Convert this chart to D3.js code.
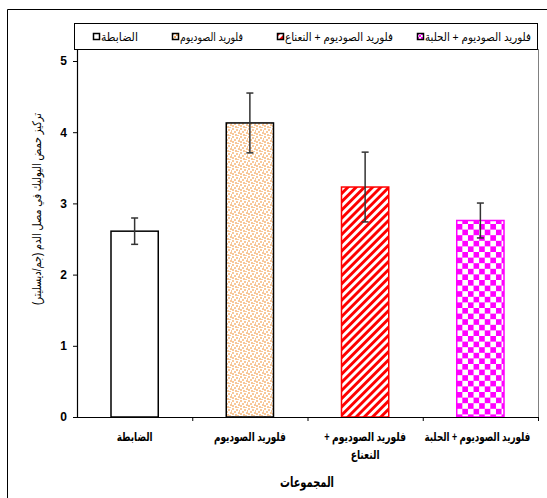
<!DOCTYPE html>
<html>
<head>
<meta charset="utf-8">
<script src="https://cdn.jsdelivr.net/npm/d3@7"></script>
<style>
  html, body { margin: 0; padding: 0; background: #fff; }
  svg { display: block; }
  text { font-family: 'Liberation Sans', 'DejaVu Sans', Arial, sans-serif; }
</style>
</head>
<body>
<svg id="chart" width="547" height="498"></svg>
<script>
// ---- data ----
const categories = ["الضابطة", "فلوريد الصوديوم", "فلوريد الصوديوم + النعناع", "فلوريد الصوديوم + الحلبة"];
const axisLabels = [["الضابطة"], ["فلوريد الصوديوم"], ["فلوريد الصوديوم +", "النعناع"], ["فلوريد الصوديوم + الحلبة"]];
const means = [2.61, 4.13, 3.23, 2.76];
const errors = [0.185, 0.42, 0.49, 0.245];
const yTicks = [0, 1, 2, 3, 4, 5];
const yTitle = "تركيز حمض اليوليك في مصل الدم (جم/ديسليتر)";
const xTitle = "المجموعات";

// visual widths of the texts in the reference (layout, px)
const axisLabelWidths = [[36], [72], [82, 29], [106]];
const legendWidths = [37, 63, 108, 106];

const fills = ["#ffffff", "url(#dots)", "url(#stripes)", "url(#checks)"];
const strokes = ["#000000", "#000000", "#ff0000", "#ff00ff"];
const swatchFills = ["#ffffff", "url(#dotsS)", "url(#stripesS)", "url(#checksS)"];

const svg = d3.select("#chart");
const defs = svg.append("defs");

// place a text at (tx,ty) (optionally rotated) and squeeze it horizontally to a target width
function placeFit(sel, tx, ty, target, rot) {
  const w = sel.node().getComputedTextLength();
  const s = w > target ? target / w : 1;
  sel.attr("x", 0).attr("y", 0)
    .attr("transform", `translate(${tx},${ty})${rot ? ` rotate(${rot})` : ""} scale(${s},1)`);
}

function dotsPattern(id, c) {
  const p = defs.append("pattern").attr("id", id).attr("patternUnits", "userSpaceOnUse")
    .attr("width", 8).attr("height", 8);
  p.append("rect").attr("width", 8).attr("height", 8).attr("fill", "#fff");
  [[0,0],[4,1],[2,3],[6,4],[0,5],[3,6],[5,7],[7,2]].forEach(([a,b]) =>
    p.append("rect").attr("x", a).attr("y", b).attr("width", 2).attr("height", 2).attr("fill", c));
}
dotsPattern("dots", "#f8c89a");
dotsPattern("dotsS", "#f0a860");

function stripesPattern(id) {
  const p = defs.append("pattern").attr("id", id).attr("patternUnits", "userSpaceOnUse")
    .attr("width", 5.8).attr("height", 10).attr("patternTransform", "rotate(45)");
  p.append("rect").attr("width", 5.8).attr("height", 10).attr("fill", "#fff");
  p.append("rect").attr("width", 2.9).attr("height", 10).attr("fill", "#ff0000");
}
stripesPattern("stripes");
stripesPattern("stripesS");

function checksPattern(id, s, ox) {
  const p = defs.append("pattern").attr("id", id).attr("patternUnits", "userSpaceOnUse")
    .attr("width", 2*s).attr("height", 2*s).attr("x", ox).attr("y", 0);
  p.append("rect").attr("width", 2*s).attr("height", 2*s).attr("fill", "#fff");
  p.append("rect").attr("width", s).attr("height", s).attr("fill", "#ff00ff");
  p.append("rect").attr("x", s).attr("y", s).attr("width", s).attr("height", s).attr("fill", "#ff00ff");
}

// ---- layout ----
const mLeft = 77, mRight = 538, mTop = 61, mBottom = 417;
const x = d3.scaleBand().domain(categories).range([mLeft, mRight]).padding(0);
const y = d3.scaleLinear().domain([0, 5]).range([mBottom, mTop]);
const barW = x.bandwidth() * 0.41;

checksPattern("checks", 5.6, x(categories[3]) + (x.bandwidth() - barW) / 2);
checksPattern("checksS", 2, 0);

svg.append("path").attr("d", "M7.5,498 V9.5 H547").attr("fill", "none").attr("stroke", "#000").attr("stroke-width", 1);

svg.append("line").attr("x1", mRight + 0.5).attr("x2", mRight + 0.5).attr("y1", 49).attr("y2", mBottom + 4)
  .attr("stroke", "#808080").attr("stroke-width", 1);

const g = svg.append("g");
g.selectAll("rect.bar").data(means).join("rect")
  .attr("class", "bar")
  .attr("x", (d, i) => x(categories[i]) + (x.bandwidth() - barW) / 2)
  .attr("y", d => y(d))
  .attr("width", barW)
  .attr("height", d => y(0) - y(d))
  .attr("fill", (d, i) => fills[i])
  .attr("stroke", (d, i) => strokes[i])
  .attr("stroke-width", 1.5);

const eb = g.selectAll("g.eb").data(means).join("g").attr("class", "eb")
  .attr("stroke", "#333").attr("stroke-width", 1.5);
eb.append("line")
  .attr("x1", (d, i) => x(categories[i]) + x.bandwidth() / 2)
  .attr("x2", (d, i) => x(categories[i]) + x.bandwidth() / 2)
  .attr("y1", (d, i) => y(d + errors[i]))
  .attr("y2", (d, i) => y(d - errors[i]));
[1, -1].forEach(sg => {
  eb.append("line")
    .attr("x1", (d, i) => x(categories[i]) + x.bandwidth() / 2 - 3.5)
    .attr("x2", (d, i) => x(categories[i]) + x.bandwidth() / 2 + 3.5)
    .attr("y1", (d, i) => y(d + sg * errors[i]))
    .attr("y2", (d, i) => y(d + sg * errors[i]));
});

const yAxis = svg.append("g").attr("transform", `translate(${mLeft},0)`)
  .call(d3.axisLeft(y).tickValues(yTicks).tickSize(4).tickPadding(6).tickSizeOuter(0).tickFormat(d3.format("d")));
yAxis.select(".domain").attr("d", `M0.5,49V${mBottom + 1}`).attr("stroke", "#000").attr("stroke-width", 1.2);
yAxis.selectAll(".tick line").attr("stroke", "#000");
yAxis.selectAll(".tick text").attr("font-size", 12).attr("font-weight", "bold").attr("fill", "#000")
  .style("font-family", "'Liberation Sans', Arial, sans-serif");

svg.append("line").attr("x1", mLeft).attr("x2", mRight + 1).attr("y1", mBottom + 0.5).attr("y2", mBottom + 0.5)
  .attr("stroke", "#000").attr("stroke-width", 1.2);
svg.selectAll("line.xt").data(d3.range(1, categories.length + 1)).join("line").attr("class", "xt")
  .attr("x1", i => mLeft + i * x.step() + 0.5).attr("x2", i => mLeft + i * x.step() + 0.5)
  .attr("y1", mBottom).attr("y2", mBottom + 4).attr("stroke", "#000");

// x labels (one text per line)
axisLabels.forEach((lines, i) => {
  lines.forEach((line, j) => {
    const t = svg.append("text").attr("class", "xl")
      .attr("direction", "rtl").attr("text-anchor", "middle")
      .attr("font-size", 12.5).attr("font-weight", "bold").attr("fill", "#000")
      .text(line);
    placeFit(t, x(categories[i]) + x.bandwidth() / 2 - (i === 3 ? 3 : 0), 441 + j * 18, axisLabelWidths[i][j]);
  });
});

const xt = svg.append("text").attr("text-anchor", "middle").attr("direction", "rtl")
  .attr("font-size", 14).attr("font-weight", "bold").text(xTitle);
placeFit(xt, 307, 487, 54);

const yt = svg.append("text").attr("text-anchor", "middle")
  .attr("direction", "rtl").attr("font-size", 12).attr("fill", "#000").text(yTitle);
placeFit(yt, 41, 209, 192, -90);

const lg = svg.append("g");
lg.append("rect").attr("x", 74.5).attr("y", 23.5).attr("width", 463).attr("height", 26)
  .attr("fill", "#fff").attr("stroke", "#000").attr("stroke-width", 1);
const legendX = [93, 172, 277, 417];
const li = lg.selectAll("g.li").data(categories).join("g").attr("class", "li")
  .attr("transform", (d, i) => `translate(${legendX[i]},33)`);
li.append("rect").attr("width", 6).attr("height", 6).attr("x", 0.5).attr("y", 0.5)
  .attr("fill", (d, i) => swatchFills[i]).attr("stroke", "#000").attr("stroke-width", 1.5);
li.append("text").attr("text-anchor", "end").attr("direction", "rtl")
  .attr("font-size", 11.5).attr("fill", "#000").text(d => d)
  .each(function(d, i) { placeFit(d3.select(this), 8, 7.5, legendWidths[i]); });
</script>
</body>
</html>
